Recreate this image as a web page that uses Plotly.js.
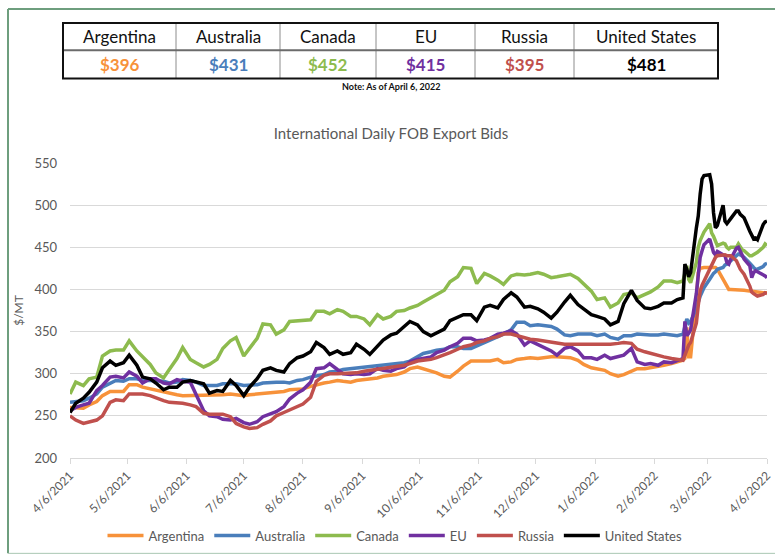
<!DOCTYPE html>
<html>
<head>
<meta charset="utf-8">
<script src="https://cdn.plot.ly/plotly-3.0.1.min.js"></script>
<style>
html,body{margin:0;padding:0;background:#ffffff;}
#chart{width:775px;height:559px;}
</style>
</head>
<body>
<div id="chart"></div>
<script>
// ---------- DATA ----------
const dates = [
'2021-04-06','2021-04-09','2021-04-13','2021-04-16','2021-04-20','2021-04-23','2021-04-27','2021-04-30',
'2021-05-04','2021-05-07','2021-05-11','2021-05-14','2021-05-18','2021-05-21','2021-05-25','2021-05-28',
'2021-06-01','2021-06-04','2021-06-08','2021-06-11','2021-06-15','2021-06-18','2021-06-22','2021-06-25',
'2021-06-29','2021-07-02','2021-07-06','2021-07-09','2021-07-13','2021-07-16','2021-07-20','2021-07-23',
'2021-07-27','2021-07-30','2021-08-03','2021-08-06','2021-08-10','2021-08-13','2021-08-17','2021-08-20',
'2021-08-24','2021-08-27','2021-08-31','2021-09-03','2021-09-07','2021-09-10','2021-09-14','2021-09-17',
'2021-09-21','2021-09-24','2021-09-28','2021-10-01','2021-10-05','2021-10-08','2021-10-12','2021-10-15',
'2021-10-19','2021-10-22','2021-10-26','2021-10-29','2021-11-02','2021-11-05','2021-11-09','2021-11-12',
'2021-11-16','2021-11-19','2021-11-23','2021-11-26','2021-11-30','2021-12-03','2021-12-07','2021-12-10',
'2021-12-14','2021-12-17','2021-12-21','2021-12-24','2021-12-28','2021-12-31','2022-01-04','2022-01-07',
'2022-01-11','2022-01-14','2022-01-18','2022-01-21','2022-01-25','2022-01-28','2022-02-01','2022-02-04',
'2022-02-08','2022-02-11','2022-02-15','2022-02-18',
'2022-02-21','2022-02-22','2022-02-23','2022-02-24','2022-02-25','2022-02-28','2022-03-01','2022-03-02',
'2022-03-03','2022-03-04','2022-03-07','2022-03-08','2022-03-09','2022-03-10','2022-03-11','2022-03-14',
'2022-03-15','2022-03-16','2022-03-17','2022-03-18','2022-03-21','2022-03-22','2022-03-23','2022-03-24',
'2022-03-25','2022-03-28','2022-03-29','2022-03-30','2022-03-31','2022-04-01','2022-04-04','2022-04-05',
'2022-04-06'
];

const argentina = [
260,260,259,263,267,274,279,279,279,287,287,284,282,280,278,276,275,274,274,274,274,274,274,275,276,275,274,
275,276,277,278,278,279,281,282,282,285,287,289,290,292,291,290,292,293,294,295,297,298,299,302,306,308,
306,304,301,297,296,303,309,315,315,315,315,317,313,314,317,318,319,318,319,320,320,319,319,316,311,307,
306,304,300,297,299,303,306,306,307,308,310,312,314,
316,318,355,320,320,390,420,425,426,426,426,426,425,426,424,412,406,402,400,400,400,400,399,399,399,398,398,397,397,397,396,396,396
];

const australia = [
266,267,268,271,276,284,289,292,291,294,294,292,292,292,291,289,290,293,292,290,286,286,286,288,288,288,286,
286,287,289,290,290,290,289,292,293,296,297,299,302,303,305,306,307,308,309,310,310,311,312,313,315,320,
324,326,328,329,332,332,330,330,333,336,340,344,347,352,361,361,357,358,357,356,353,346,345,347,347,347,
345,347,343,341,345,345,347,346,346,346,347,346,345,
347,356,365,360,362,377,385,392,397,402,412,416,419,421,424,426,429,430,432,434,439,442,441,440,438,431,428,426,424,424,427,430,431
];

const canada = [
276,290,286,294,296,321,327,328,328,339,327,320,311,301,295,305,318,331,317,313,308,311,317,330,339,343,321,
330,342,359,358,347,352,362,363,363,364,374,374,371,376,374,368,368,365,358,370,365,368,374,375,378,381,
385,390,393,399,409,415,426,425,407,419,416,411,406,416,418,417,418,420,418,414,415,417,418,413,407,398,
388,390,379,384,394,396,390,394,397,403,410,410,408,
410,420,428,412,408,432,450,458,464,468,478,467,463,458,452,455,454,450,448,450,450,454,450,447,446,440,440,441,443,444,450,454,452
];

const eu = [
256,260,263,265,280,286,296,297,295,302,297,289,294,294,289,288,293,291,290,276,256,250,249,246,245,247,242,
240,243,249,253,255,261,270,277,281,290,306,307,312,305,300,299,300,299,300,306,304,303,306,308,314,317,
318,320,325,328,332,336,342,342,339,340,342,347,348,351,347,334,339,335,331,327,322,330,332,327,319,319,
317,322,318,320,322,330,314,311,312,310,314,313,316,
318,362,345,348,352,395,420,438,446,453,460,450,444,441,445,441,440,432,430,436,449,450,445,440,436,428,414,420,422,421,418,416,414
];

const russia = [
250,245,241,243,245,250,266,269,268,276,276,276,274,271,268,266,266,265,263,261,253,252,252,252,249,241,237,
235,236,240,244,250,254,257,261,264,272,291,298,300,300,300,300,301,303,304,305,306,307,308,310,312,315,
316,317,319,322,325,329,332,334,337,339,342,344,347,347,345,343,341,340,339,337,336,335,335,335,335,335,
334,334,335,336,337,336,329,326,324,322,320,318,317,
316,322,328,334,337,360,381,398,405,410,425,430,435,438,440,441,441,440,440,440,434,428,424,421,418,404,397,395,393,392,394,396,395
];

const unitedStates = [
254,265,271,278,290,307,315,310,313,322,310,296,294,289,281,284,284,290,292,290,288,277,280,279,292,286,274,
284,294,304,307,304,302,312,319,321,326,337,331,323,327,323,325,335,329,323,332,340,346,348,356,362,358,
350,345,348,353,363,367,370,370,363,379,381,378,388,396,391,379,380,377,373,366,373,385,393,382,377,370,
368,365,358,362,383,399,387,378,377,380,384,384,388,
390,430,424,415,420,473,487,513,531,535,536,525,491,473,476,500,481,478,482,484,493,493,489,487,485,469,464,460,461,459,477,480,481
];

const seriesNames = ['Argentina','Australia','Canada','EU','Russia','United States'];
const latestPrices = [396, 431, 452, 415, 395, 481];
const seriesColors = ['#F7923A','#4A7EBB','#8DBB4E','#7030A0','#C0504D','#000000'];

const tickDates = ['2021-04-06','2021-05-06','2021-06-06','2021-07-06','2021-08-06','2021-09-06',
  '2021-10-06','2021-11-06','2021-12-06','2022-01-06','2022-02-06','2022-03-06','2022-04-06'];
const tickLabels = ['4/6/2021','5/6/2021','6/6/2021','7/6/2021','8/6/2021','9/6/2021',
  '10/6/2021','11/6/2021','12/6/2021','1/6/2022','2/6/2022','3/6/2022','4/6/2022'];

// ---------- LAYOUT HELPERS ----------
const W = 775, H = 559, ML = 70, MR = 8, MT = 163, MB = 99;
const PW = W - ML - MR, PH = H - MT - MB;
const fx = p => (p - ML) / PW;          // pixel x -> paper x
const fy = p => (H - MB - p) / PH;      // pixel y -> paper y
const FONT = 'Lato, "Open Sans", sans-serif';
const GRAY = '#595959';

const allSeries = [argentina, australia, canada, eu, russia, unitedStates];
const traces = allSeries.map((vals, i) => ({
  type: 'scatter', mode: 'lines', name: seriesNames[i],
  x: dates, y: vals,
  line: {color: seriesColors[i], width: 3.5}
}));

// table geometry (pixels)
const colEdges = [63, 176, 280, 376, 475, 574, 718];
const tTop = 22, tMid = 49.5, tBot = 78;

const shapes = [];
// green outer frame
shapes.push({type:'line', xref:'paper', yref:'paper', x0:fx(8), x1:fx(8), y0:fy(8), y1:fy(556), line:{color:'#6E9E7E', width:2}});
shapes.push({type:'line', xref:'paper', yref:'paper', x0:fx(8), x1:fx(776), y0:fy(8), y1:fy(8), line:{color:'#6E9E7E', width:2}});
shapes.push({type:'line', xref:'paper', yref:'paper', x0:fx(8), x1:fx(776), y0:fy(556), y1:fy(556), line:{color:'#A9C7B3', width:1}});
// table inner lines
for (let i = 1; i < colEdges.length - 1; i++) {
  shapes.push({type:'line', xref:'paper', yref:'paper', x0:fx(colEdges[i]), x1:fx(colEdges[i]), y0:fy(tTop), y1:fy(tBot), line:{color:'#8c8c8c', width:1}});
}
shapes.push({type:'line', xref:'paper', yref:'paper', x0:fx(colEdges[0]), x1:fx(colEdges[6]), y0:fy(tMid), y1:fy(tMid), line:{color:'#6b6b6b', width:2}});
// table outer border
shapes.push({type:'rect', xref:'paper', yref:'paper', x0:fx(colEdges[0]), x1:fx(colEdges[6]), y0:fy(tTop), y1:fy(tBot), line:{color:'#111111', width:2}});

const annotations = [];
for (let i = 0; i < seriesNames.length; i++) {
  const cx = (colEdges[i] + colEdges[i+1]) / 2;
  annotations.push({xref:'paper', yref:'paper', x:fx(cx), y:fy(36), xanchor:'center', yanchor:'middle',
    text: seriesNames[i], showarrow:false, font:{family:FONT, size:17, color:'#111111'}});
  annotations.push({xref:'paper', yref:'paper', x:fx(cx), y:fy(63.5), xanchor:'center', yanchor:'middle',
    text: '<b>$' + latestPrices[i] + '</b>', showarrow:false, font:{family:FONT, size:17, color:seriesColors[i]}});
}
annotations.push({xref:'paper', yref:'paper', x:fx(391), y:fy(86), xanchor:'center', yanchor:'middle',
  text:'<b>Note: As of April 6, 2022</b>', showarrow:false, font:{family:FONT, size:9, color:'#111111'}});

const layout = {
  width: W, height: H,
  margin: {l: ML, r: MR, t: MT, b: MB, pad: 0},
  paper_bgcolor: '#ffffff', plot_bgcolor: '#ffffff',
  font: {family: FONT, color: GRAY},
  title: {text: 'International Daily FOB Export Bids', x: 391/W, xanchor: 'center', y: 1 - 134/H, yanchor: 'middle',
          font: {family: FONT, size: 15, color: GRAY}},
  xaxis: {
    type: 'date', range: ['2021-04-06', '2022-04-06'],
    tickmode: 'array', tickvals: tickDates, ticktext: tickLabels, tickangle: -45,
    ticks: 'outside', ticklen: 5, tickcolor: '#d9d9d9', tickwidth: 1,
    showline: true, linecolor: '#d9d9d9', linewidth: 1,
    showgrid: false, zeroline: false,
    tickfont: {family: FONT, size: 12, color: GRAY}
  },
  yaxis: {
    range: [200, 550], dtick: 50, tick0: 200,
    showgrid: true, gridcolor: '#d9d9d9', gridwidth: 1,
    showline: false, zeroline: false, ticks: '',
    ticklabelstandoff: 12,
    tickfont: {family: FONT, size: 13, color: GRAY},
    title: {text: '$/MT', standoff: 8, font: {family: FONT, size: 12, color: GRAY}}
  },
  showlegend: true,
  legend: {orientation: 'h', x: fx(395), xanchor: 'center', y: fy(538), yanchor: 'middle',
           itemwidth: 36,
           font: {family: FONT, size: 13, color: GRAY}, bgcolor: 'rgba(0,0,0,0)', traceorder: 'normal'},
  shapes: shapes,
  annotations: annotations
};

Plotly.newPlot('chart', traces, layout, {staticPlot: true, displayModeBar: false});
</script>
</body>
</html>
